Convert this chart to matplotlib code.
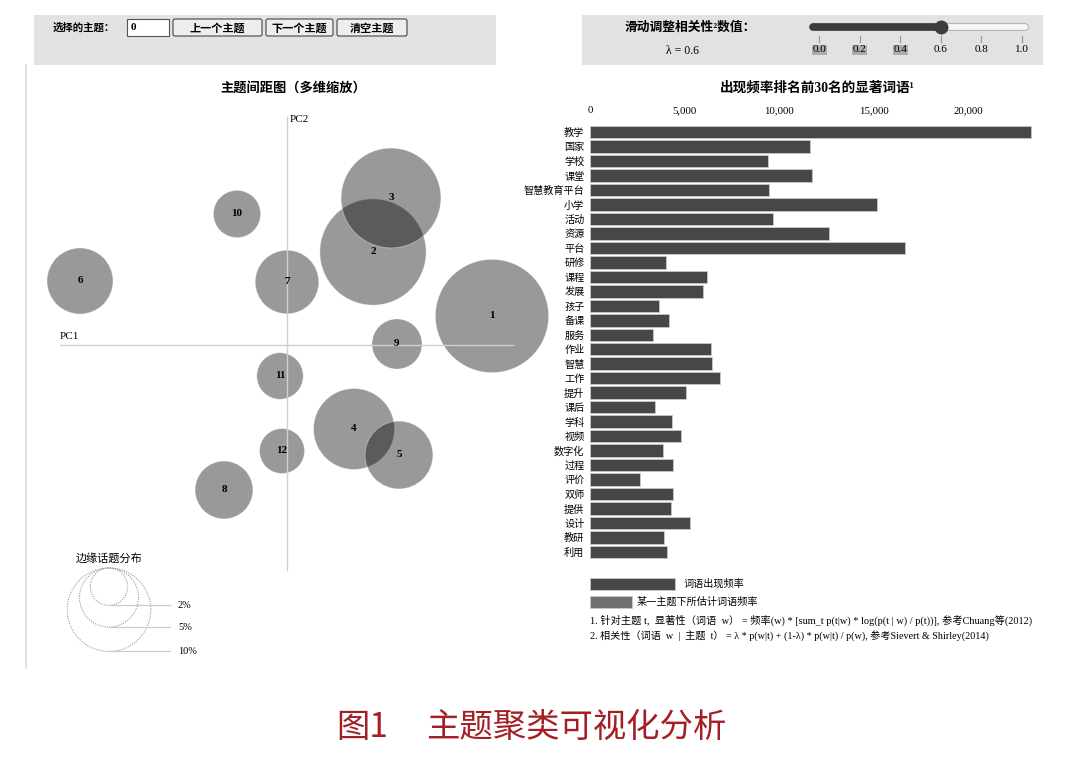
import numpy as np
import matplotlib
matplotlib.use("Agg")
import matplotlib.pyplot as plt
from matplotlib.patches import Circle, Rectangle, FancyBboxPatch

plt.rcParams['font.family'] = ['Liberation Serif', 'Noto Sans CJK SC', 'DejaVu Sans']

# ---- data: inter-topic distance map (MDS) ----
topic_ids = [1, 2, 3, 4, 5, 6, 7, 8, 9, 10, 11, 12]
topic_pc1 = [0.205, 0.086, 0.104, 0.067, 0.112, -0.207, 0.000, -0.063, 0.110, -0.050, -0.007, -0.005]
topic_pc2 = [0.029, 0.093, 0.147, -0.084, -0.110, 0.064, 0.063, -0.145, 0.001, 0.131, -0.031, -0.106]
topic_share = [18.4, 16.2, 14.3, 9.4, 6.6, 6.25, 5.8, 4.8, 3.6, 3.2, 3.1, 2.9]  # % of tokens
legend_shares = [2, 5, 10]

# ---- data: top-30 salient terms ----
terms = ['教学', '国家', '学校', '课堂', '智慧教育平台', '小学', '活动', '资源', '平台', '研修',
         '课程', '发展', '孩子', '备课', '服务', '作业', '智慧', '工作', '提升', '课后',
         '学科', '视频', '数字化', '过程', '评价', '双师', '提供', '设计', '教研', '利用']
term_freq = [23300, 11650, 9400, 11750, 9450, 15150, 9700, 12650, 16650, 4000,
             6200, 5950, 3650, 4200, 3350, 6400, 6450, 6850, 5050, 3450,
             4350, 4800, 3850, 4400, 2650, 4400, 4300, 5300, 3900, 4050]
freq_ticks = [0, 5000, 10000, 15000, 20000]

lambda_value = 0.6
lambda_ticks = [0.0, 0.2, 0.4, 0.6, 0.8, 1.0]

W, H = 1080, 775
fig = plt.figure(figsize=(W / 100, H / 100), dpi=100)


def px_axes(x0, y0, x1, y1, **kw):
    return fig.add_axes([x0 / W, 1 - y1 / H, (x1 - x0) / W, (y1 - y0) / H], **kw)


# overlay in pixel coordinates for the page chrome
ui = px_axes(0, 0, W, H)
ui.set_xlim(0, W)
ui.set_ylim(H, 0)
ui.axis('off')

panel_col = '#e2e2e2'
ui.add_patch(Rectangle((34, 15), 462, 50, color=panel_col, lw=0))
ui.add_patch(Rectangle((582, 15), 461, 50, color=panel_col, lw=0))
ui.plot([26, 26], [65, 668], color='#dddddd', lw=1.2)

ui.text(53, 28, '选择的主题：', fontsize=7.5, fontweight='bold', va='center')
ui.add_patch(Rectangle((127, 19), 42, 17, facecolor='white', edgecolor='#555555', lw=0.8))
ui.text(131, 28, '0', fontsize=8, fontweight='bold', va='center')
for x0, x1, lab in [(173, 262, '上一个主题'), (266, 333, '下一个主题'), (337, 407, '清空主题')]:
    ui.add_patch(FancyBboxPatch((x0, 19), x1 - x0, 17, boxstyle='round,pad=0,rounding_size=2',
                                facecolor='#eeeeee', edgecolor='#444444', lw=0.8))
    ui.text((x0 + x1) / 2, 28, lab, fontsize=8, fontweight='bold', ha='center', va='center')

ui.text(690, 28, '滑动调整相关性²数值：', fontsize=9.2, fontweight='bold', ha='center', va='center')
ui.text(682, 51, 'λ = %.1f' % lambda_value, fontsize=8.5, ha='center', va='center')

ui.text(293, 88, '主题间距图（多维缩放）', fontsize=9.5, fontweight='bold', ha='center', va='center')
ui.text(817, 88, '出现频率排名前30名的显著词语¹', fontsize=9.8, fontweight='bold', ha='center', va='center')

# caption
cap_col = '#a31f24'
ui.text(336, 727, '图1', fontsize=24, color=cap_col, va='center', family=['Noto Sans CJK SC'])
ui.text(426, 727, '主题聚类可视化分析', fontsize=24, color=cap_col, va='center', family=['Noto Sans CJK SC'])

# ---- slider ----
sl = px_axes(805, 18, 1035, 62)
s_scale = 202.4
sl.set_xlim((805 - 819.3) / s_scale, (1035 - 819.3) / s_scale)
sl.set_ylim(44, 0)
sl.axis('off')
t0, t1 = (813 - 819.3) / s_scale, (1025 - 819.3) / s_scale
sl.plot([t0, t1], [9, 9], color='#aaaaaa', lw=5.5, solid_capstyle='round')
sl.plot([t0, t1], [9, 9], color='#f7f7f7', lw=4.2, solid_capstyle='round')
sl.plot([t0, lambda_value], [9, 9], color='#3c3c3c', lw=5.5, solid_capstyle='round')
sl.plot([lambda_value], [9], 'o', color='#3c3c3c', ms=9)
for t in lambda_ticks:
    sl.plot([t, t], [18, 24], color='#999999', lw=0.9)
    box = dict(facecolor='#acacac', edgecolor='none', pad=0.6) if t < lambda_value - 1e-9 else None
    sl.text(t, 32, '%.1f' % t, fontsize=8, ha='center', va='center', bbox=box)

# ---- inter-topic distance map ----
k = 0.0132  # radius per sqrt(% share), data units
origin_x, origin_y = 287, 345
ax = px_axes(26, 95, 556, 670)
ax.set_xlim((26 - origin_x) / 1000, (556 - origin_x) / 1000)
ax.set_ylim((origin_y - 670) / 1000, (origin_y - 95) / 1000)
ax.axis('off')

ax.plot([(60 - origin_x) / 1000, (513 - origin_x) / 1000], [0, 0], color='#d0d0d0', lw=1)
ax.plot([0, 0], [(origin_y - 570) / 1000, (origin_y - 117) / 1000], color='#d0d0d0', lw=1)
ax.text((60 - origin_x) / 1000, 0.004, 'PC1', fontsize=8, ha='left', va='bottom')
ax.text(0.003, (origin_y - 120) / 1000, 'PC2', fontsize=8, ha='left', va='center')

for tid, x, y, s in zip(topic_ids, topic_pc1, topic_pc2, topic_share):
    ax.add_patch(Circle((x, y), k * np.sqrt(s), facecolor='black', alpha=0.4,
                        edgecolor='white', lw=0.6))
    ax.text(x, y, str(tid), fontsize=8, fontweight='bold', ha='center', va='center')

# marginal topic distribution legend
lx = (109 - origin_x) / 1000
ltop = (origin_y - 568) / 1000
ax.text(lx, (origin_y - 558) / 1000, '边缘话题分布', fontsize=8, ha='center', va='center')
for s in legend_shares:
    r = k * np.sqrt(s)
    ax.add_patch(Circle((lx, ltop - r), r, facecolor='none', edgecolor='#999999',
                        lw=0.8, ls=(0, (1, 1.2))))
    ax.plot([lx, (170 - origin_x) / 1000], [ltop - 2 * r] * 2, color='#cccccc', lw=0.9)
    ax.text((178 - origin_x) / 1000, ltop - 2 * r, '%d%%' % s, fontsize=7.5, va='center')

# ---- top-30 salient terms ----
px_per_k = (968.3 - 590) / 20.0
bx = px_axes(590, 123.5, 1040, 560.5)
bx.barh(range(len(terms)), term_freq, height=0.86, color='#474747', edgecolor='#c8c8c8', lw=0.6)
bx.set_xlim(0, (1040 - 590) / px_per_k * 1000)
bx.set_ylim(len(terms) - 0.4, -0.6)
bx.set_yticks(range(len(terms)))
bx.set_yticklabels(terms, fontsize=7.3)
bx.set_xticks(freq_ticks)
bx.set_xticklabels(['{:,}'.format(v) for v in freq_ticks], fontsize=7.8)
bx.xaxis.tick_top()
bx.tick_params(length=0, pad=4)
bx.tick_params(axis='x', pad=6)
for sp in bx.spines.values():
    sp.set_visible(False)
bx.patch.set_visible(False)

# legend and footnotes
ui.add_patch(Rectangle((590, 578), 85, 12, facecolor='#474747', edgecolor='#c8c8c8', lw=0.6))
ui.add_patch(Rectangle((590, 596), 42, 12, facecolor='#707070', edgecolor='#c8c8c8', lw=0.6))
ui.text(684, 584, '词语出现频率', fontsize=7.3, va='center')
ui.text(637, 602, '某一主题下所估计词语频率', fontsize=7.3, va='center')
ui.text(590, 620, '1. 针对主题 t,  显著性（词语  w） = 频率(w) * [sum_t p(t|w) * log(p(t | w) / p(t))], 参考Chuang等(2012)',
        fontsize=7.35, va='center')
ui.text(590, 636, '2. 相关性（词语  w  |  主题  t） = λ * p(w|t) + (1-λ) * p(w|t) / p(w), 参考Sievert & Shirley(2014)',
        fontsize=7.25, va='center')

fig.savefig('out.png', dpi=100)
